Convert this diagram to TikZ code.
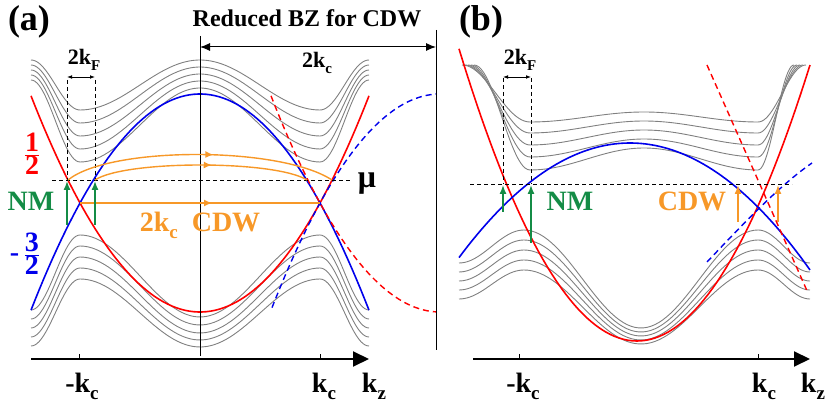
\documentclass[tikz,border=0pt]{standalone}
\usepackage{fontspec}
\setmainfont{Liberation Serif}
\usetikzlibrary{arrows.meta,decorations.markings}
\definecolor{grn}{RGB}{20,140,70}
\definecolor{org}{RGB}{247,152,40}
\definecolor{blu}{RGB}{0,0,235}
\newcommand{\lowsub}[1]{\raisebox{-0.55ex}{\fontsize{0.68em}{1em}\selectfont #1}}
\newcommand{\gband}[7]{%
\draw[gband] plot[domain=#4:#5,samples=25] (\x,{(#2+#1)/2+(#2-#1)/2*cos((#5-\x)/(#5-#4)*180)})
 -- plot[domain=#5:#6,samples=60] (\x,{(#2+#3)/2+(#2-#3)/2*cos((\x-#5)/(#6-#5)*360)})
 -- plot[domain=#6:#7,samples=25] (\x,{(#2+#1)/2+(#2-#1)/2*cos((\x-#6)/(#7-#6)*180)});}
\tikzset{
 gband/.style={draw=gray,line width=0.9pt},
 band/.style={line width=1.6pt},
 dsh/.style={dashed,line width=0.9pt,dash pattern=on 4pt off 3pt},
 ldsh/.style={line width=1.4pt,dash pattern=on 6pt off 4pt},
 lbl/.style={font=\bfseries\fontsize{28}{30}\selectfont,inner sep=0pt},
 small/.style={font=\bfseries\fontsize{22}{24}\selectfont,inner sep=0pt},
 midarr/.style={decoration={markings,mark=at position 0.55 with {\arrow{Latex[length=8pt,width=7pt]}}},postaction={decorate}},
 upar/.style={line width=1.4pt,-{Latex[length=9pt,width=7pt]}},
}
\begin{document}
\begin{tikzpicture}[x=1pt,y=-1pt]
\useasboundingbox (0,0) rectangle (830,411);
% ---------- panel (a) ----------
\foreach \e/\m/\c in {60/110/60,65/123/67,70/136/74,75/149/81,80/162/88}{\gband{\e}{\m}{\c}{31}{80}{320}{369}}
\foreach \e/\m/\c in {310/235/317,319/246/325,328/257/333,337/268/340,346/279/347}{\gband{\e}{\m}{\c}{31}{80}{320}{369}}
\draw[band,red] plot[domain=31:369,samples=80] (\x,{312-109*((\x-200)/120)^2});
\draw[band,blu] plot[domain=31:369,samples=80] (\x,{94+109*((\x-200)/120)^2});
\draw[red,ldsh] plot[domain=271:436,samples=50] (\x,{312-109*((\x-440)/120)^2});
\draw[blu,ldsh] plot[domain=272:436,samples=50] (\x,{94+109*((\x-440)/120)^2});
\coordinate (mua1) at (52,180); \coordinate (mua2) at (350,180);
\draw[dsh] (mua1) -- (mua2);
\node[lbl] (mua) at (367,184) {\fontsize{32}{34}\selectfont μ};
\coordinate (cl) at (200,36); \coordinate (cl2) at (200,356);
\draw[line width=1pt] (cl) -- (cl2);
\coordinate (rl) at (436,30); \coordinate (rl2) at (436,350);
\draw[line width=1pt] (rl) -- (rl2);
\node[small,font=\bfseries\fontsize{24}{26}\selectfont] (rbz) at (307,18) {Reduced BZ for CDW};
\coordinate (bz1) at (200,47); \coordinate (bz2) at (436,47);
\draw[line width=1pt,{Latex[length=10pt,width=8pt]}-{Latex[length=10pt,width=8pt]}] (bz1) -- (bz2);
\node[small] (twokc) at (317,63) {2k\lowsub{c}};
% Fermi verticals
\coordinate (fa1) at (67,80); \coordinate (fa1b) at (67,180);
\coordinate (fa2) at (95,80); \coordinate (fa2b) at (95,180);
\draw[dsh] (fa1) -- (fa1b); \draw[dsh] (fa2) -- (fa2b);
\coordinate (kfa1) at (67,77); \coordinate (kfa2) at (95,77);
\draw[line width=0.9pt,{Latex[length=5pt]}-{Latex[length=5pt]}] (kfa1) -- (kfa2);
\node[small] (kfa) at (84,60) {2k\lowsub{F}};
% orange
\coordinate (oa1) at (68,180); \coordinate (oa2) at (332,180);
\coordinate (ob1) at (95,180); \coordinate (ob2) at (307,180);
\coordinate (oc1) at (80,203); \coordinate (oc2) at (320,203);
\draw[org,line width=1.4pt,midarr] (oa1) .. controls (110,146) and (280,146) .. (oa2);
\draw[org,line width=1.4pt,midarr] (ob1) .. controls (125,160) and (275,160) .. (ob2);
\draw[org,line width=1.4pt,midarr] (oc1) -- (oc2);
\node[lbl,org] (cdwa) at (200,225) {2k\lowsub{c}\ \ CDW};
% green
\coordinate (ga1) at (67,225); \coordinate (ga1b) at (67,181);
\coordinate (ga2) at (95,225); \coordinate (ga2b) at (95,181);
\draw[upar,grn] (ga1) -- (ga1b); \draw[upar,grn] (ga2) -- (ga2b);
\node[lbl,grn] (nma) at (31,201) {NM};
\node[lbl,red] (half) at (32,154) {${\hbox{\bfseries 1}\over\hbox{\bfseries 2}}$};
\node[lbl,blu] (thr) at (25,254) {-\,${\hbox{\bfseries 3}\over\hbox{\bfseries 2}}$};
\node[lbl,font=\bfseries\fontsize{36}{38}\selectfont] (pa) at (29,22) {(a)};
% axis
\coordinate (ax1) at (31,359); \coordinate (ax2) at (369,359);
\draw[line width=2pt,-{Triangle[length=16pt,width=15pt]}] (ax1) -- (ax2);
\coordinate (t1) at (79,359); \coordinate (t2) at (320,359);
\draw[line width=1pt] (t1) -- ++(0,-5); \draw[line width=1pt] (t2) -- ++(0,-5);
\node[lbl] (mkc) at (82,386) {-k\lowsub{c}};
\node[lbl] (kc) at (324,386) {k\lowsub{c}};
\node[lbl] (kz) at (374,386) {k\lowsub{z}};
% ---------- panel (b) ----------
\foreach \i/\m/\c in {0/122/112,1/133/121,2/145/130,3/157/139,4/170/148}{
 \pgfmathsetmacro{\xa}{462+3*\i}\pgfmathsetmacro{\xb}{806-3*\i}
 \gband{65}{\m}{\c}{\xa}{530}{758}{\xb}}
\foreach \e/\m/\c in {263/230/328,272/240/332,281/250/336,290/260/340,299/270/344}{\gband{\e}{\m}{\c}{459}{524}{758}{810}}
\draw[band,red] plot[domain=459:810,samples=80] (\x,{341-276*((\x-637)/173)^2});
\draw[band,blu] plot[domain=459:810,samples=80] (\x,{143+120*((\x-630)/175)^2});
\coordinate (rd1) at (707,65); \coordinate (rd2) at (808,293);
\draw[red,ldsh] (rd1) -- (rd2);
\coordinate (bd1) at (707,262); \coordinate (bd2) at (812,163);
\draw[blu,ldsh] (bd1) .. controls (745,222) and (780,185) .. (bd2);
\coordinate (mub1) at (470,184); \coordinate (mub2) at (792,184);
\draw[dsh] (mub1) -- (mub2);
\coordinate (fb1) at (503,78); \coordinate (fb1b) at (503,184);
\coordinate (fb2) at (531,78); \coordinate (fb2b) at (531,184);
\draw[dsh] (fb1) -- (fb1b); \draw[dsh] (fb2) -- (fb2b);
\coordinate (kfb1) at (503,77); \coordinate (kfb2) at (531,77);
\draw[line width=0.9pt,{Latex[length=5pt]}-{Latex[length=5pt]}] (kfb1) -- (kfb2);
\node[small] (kfb) at (520,60) {2k\lowsub{F}};
\coordinate (gb1) at (503,212); \coordinate (gb1b) at (503,185);
\coordinate (gb2) at (531,243); \coordinate (gb2b) at (531,185);
\draw[upar,grn] (gb1) -- (gb1b); \draw[upar,grn] (gb2) -- (gb2b);
\node[lbl,grn] (nmb) at (570,201) {NM};
\coordinate (ob3) at (738,222); \coordinate (ob3b) at (738,185);
\coordinate (ob4) at (778,222); \coordinate (ob4b) at (778,185);
\draw[upar,org] (ob3) -- (ob3b); \draw[upar,org] (ob4) -- (ob4b);
\node[lbl,org] (cdwb) at (692,201) {CDW};
\node[lbl,font=\bfseries\fontsize{36}{38}\selectfont] (pb) at (481,22) {(b)};
\coordinate (bx1) at (473,359); \coordinate (bx2) at (810,359);
\draw[line width=2pt,-{Triangle[length=16pt,width=15pt]}] (bx1) -- (bx2);
\coordinate (t3) at (519,359); \coordinate (t4) at (758,359);
\draw[line width=1pt] (t3) -- ++(0,-5); \draw[line width=1pt] (t4) -- ++(0,-5);
\node[lbl] (mkcb) at (523,386) {-k\lowsub{c}};
\node[lbl] (kcb) at (764,386) {k\lowsub{c}};
\node[lbl] (kzb) at (813,386) {k\lowsub{z}};
\end{tikzpicture}
\end{document}
